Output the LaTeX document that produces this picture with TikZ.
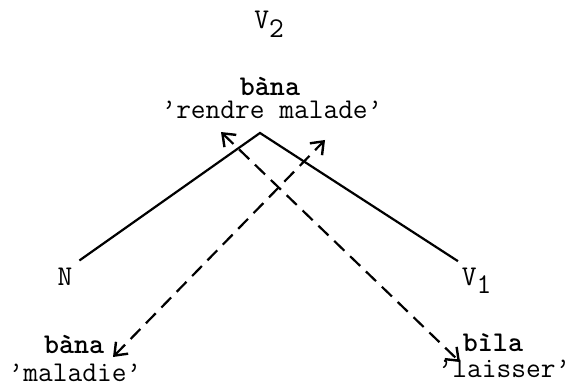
\documentclass[tikz,border=0pt]{standalone}
\usepackage{tikz}
\usetikzlibrary{arrows.meta}
\newcommand{\lowsub}[1]{\raisebox{-4.3pt}{#1}}

\begin{document}
\begin{tikzpicture}[every node/.style={font=\fontsize{14.3}{16}\selectfont\ttfamily,inner sep=1pt},
  word/.style={font=\fontsize{14.3}{16}\selectfont\ttfamily\bfseries},
  cat/.style={inner sep=0.3333em},
  branch/.style={line width=1.1pt},
  link/.style={line width=1.1pt,dash pattern=on 7pt off 4pt,
    {Straight Barb[length=5.5pt,width=8.5pt,line width=1.2pt]}-{Straight Barb[length=5.5pt,width=8.5pt,line width=1.2pt]}}]
\useasboundingbox (0,0) rectangle (10,6.854);
% V2 with its head word
\node[anchor=base] (v2) at (4.728,6.345) {V\lowsub{2}};
\node[word,anchor=base] (bana) at (4.745,5.167) {bàna};
\node[anchor=base] (rendre) at (4.780,4.763) {’rendre malade’};
\coordinate (top) at (4.569,4.517);

% daughters
\node[cat,anchor=base] (n) at (1.142,1.845) {N};
\node[cat,anchor=base,inner xsep=1.75pt,inner ysep=3pt] (v1) at (8.375,1.845) {V\lowsub{1}};
\draw[branch] (n.north east) -- (top) -- (v1.north west);

% words under the daughters
\node[word,anchor=base] (banaN) at (1.301,0.650) {bàna};
\node[anchor=base] (maladie) at (1.318,0.158) {’maladie’};
\node[word,anchor=base] (bila) at (8.664,0.668) {bìla};
\node[anchor=base] (laisser) at (8.858,0.228) {’laisser’};

% dashed links
\coordinate (tipL) at (3.884,4.534);
\coordinate (tipR) at (5.712,4.394);
\coordinate (tipN) at (1.986,0.580);
\coordinate (tipV) at (8.085,0.492);
\draw[link] (tipL) -- (tipV);
\draw[link] (tipN) -- (tipR);
\end{tikzpicture}
\end{document}
